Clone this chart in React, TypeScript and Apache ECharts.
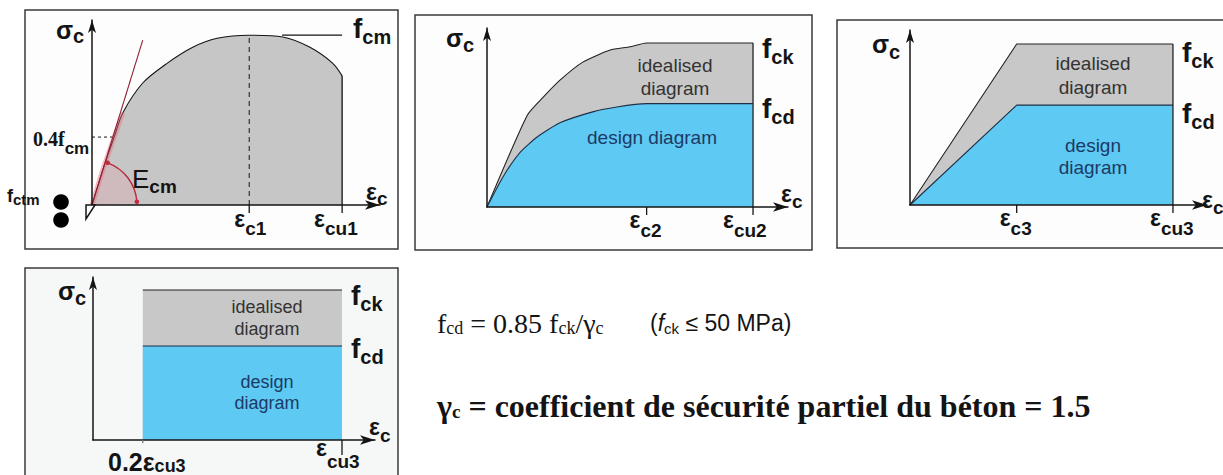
import React, { useEffect, useRef } from "react";
import * as echarts from "echarts";

// ---------- DATA (σc in MPa, εc in ‰) ----------
// Panel 1: real stress-strain curve
const P1_CURVE: number[][] = [
  [0, 0], [0.15, 7.8], [0.31, 15.2], [0.43, 20.6], [0.71, 27.3], [1.05, 31.7],
  [1.41, 35.3], [1.75, 37.3], [2.2, 38], [2.67, 37.6], [3.05, 35.3], [3.37, 31.7], [3.5, 28.9],
];
const P1_FCM = 38;
const P1_04FCM = 15.2;
const P1_04FCM_X = 0.31;
const P1_TANGENT: number[][] = [[0, 0], [0.71, 36.9]];
const P1_FCM_LEADER_X = 2.66;
const P1_TICKS = [2.2, 3.5]; // εc1, εcu1
const P1_TICK_LABELS = ["c1", "cu1"];

// Panel 2: parabola-rectangle
const P2_IDEAL: number[][] = [
  [0, 0], [0.53, 16.8], [0.74, 20.1], [0.96, 23.2], [1.26, 26.5], [1.62, 28.7], [1.88, 29.3], [2.1, 30], [3.5, 30],
];
const P2_DESIGN: number[][] = [
  [0, 0], [0.21, 5.5], [0.43, 9.9], [0.66, 12.8], [0.96, 15.4], [1.39, 17.4], [1.71, 18.3], [2.1, 18.9], [3.5, 18.9],
];
const P2_TICKS = [2.1, 3.5]; // εc2, εcu2
const P2_TICK_LABELS = ["c2", "cu2"];

// Panel 3: bi-linear
const P3_IDEAL: number[][] = [[0, 0], [1.42, 30], [3.5, 30]];
const P3_DESIGN: number[][] = [[0, 0], [1.42, 18.6], [3.5, 18.6]];
const P3_TICKS = [1.42, 3.5]; // εc3, εcu3
const P3_TICK_LABELS = ["c3", "cu3"];

// Panel 4: rectangular block
const P4_IDEAL: number[][] = [[0.7, 30], [3.5, 30]];
const P4_DESIGN: number[][] = [[0.7, 18.8], [3.5, 18.8]];
const P4_TICKS = [0.7, 3.5]; // 0.2εcu3, εcu3

// ---------- layout / style ----------
const GRIDS = [
  { left: 92, top: 20, width: 288, height: 185, xMax: 4.03, yMax: 41.4 },
  { left: 487, top: 28, width: 301, height: 179, xMax: 3.96, yMax: 32.74 },
  { left: 910, top: 30, width: 297, height: 175, xMax: 3.953, yMax: 32.6 },
  { left: 93, top: 277, width: 282, height: 163, xMax: 3.964, yMax: 32.6 },
];
const GRAY = "#c8c8c8";
const BLUE = "#5ec9f3";
const INK = "#141414";
const SANS = '"Liberation Sans", Arial, Helvetica, sans-serif';
const SERIF = '"Liberation Serif", "Times New Roman", serif';

const canvasCtx = typeof document !== "undefined" ? document.createElement("canvas").getContext("2d") : null;
function measure(t: string, font: string): number {
  if (!canvasCtx) return t.length * 10;
  canvasCtx.font = font;
  return canvasCtx.measureText(t).width;
}

type Run = { t: string; size: number; dy?: number; dx?: number; weight?: string; family?: string; italic?: boolean; fill?: string };
function runs(x0: number, y: number, list: Run[]): any[] {
  let x = x0;
  const out: any[] = [];
  for (const r of list) {
    const font = `${r.italic ? "italic" : "normal"} ${r.weight ?? "bold"} ${r.size}px ${r.family ?? SANS}`;
    x += r.dx ?? 0;
    out.push({
      type: "text", x, y: y + (r.dy ?? 0), z: 100, silent: true,
      style: { text: r.t, font, fill: r.fill ?? INK, align: "left", verticalAlign: "middle", textAlign: "left", textVerticalAlign: "middle" },
    });
    x += measure(r.t, font);
  }
  return out;
}
function lab(x: number, y: number, main: string, sub: string, mainSize: number, subSize: number, dy: number): any[] {
  return runs(x, y, [{ t: main, size: mainSize }, { t: sub, size: subSize, dy }]);
}
function centered(x: number, y: number, t: string, size: number, fill: string): any {
  return {
    type: "text", x, y, z: 100, silent: true,
    style: { text: t, font: `normal ${size}px ${SANS}`, fill, align: "center", verticalAlign: "middle", textAlign: "center", textVerticalAlign: "middle" },
  };
}

function App() {
  const ref = useRef<HTMLDivElement>(null);
  useEffect(() => {
    const el = ref.current!;
    const chart = echarts.init(el, null, { renderer: "svg" });

    const axisLine = (size: number[]) => ({
      show: true,
      lineStyle: { color: INK, width: 1.5 },
      symbol: ["none", "arrow"],
      symbolSize: size,
    });
    const line = (g: number, data: number[][], color: string, width: number, extra: any = {}) => ({
      type: "line", xAxisIndex: g, yAxisIndex: g, data, symbol: "none", silent: true, animation: false,
      lineStyle: { color, width }, z: 3, ...extra,
    });

    chart.setOption({
      animation: false,
      grid: GRIDS.map((g) => ({ left: g.left, top: g.top, width: g.width, height: g.height, containLabel: false })),
      xAxis: GRIDS.map((g, i) => ({
        gridIndex: i, type: "value", min: 0, max: g.xMax, z: 6,
        axisLine: axisLine([7, 15]), axisTick: { show: false }, axisLabel: { show: false }, splitLine: { show: false },
      })),
      yAxis: GRIDS.map((g, i) => ({
        gridIndex: i, type: "value", min: 0, max: g.yMax, z: 6,
        axisLine: axisLine([6, 13]), axisTick: { show: false }, axisLabel: { show: false }, splitLine: { show: false },
      })),
      series: [
        // panel 1
        line(0, P1_CURVE, INK, 1.1, { smooth: 0.3, areaStyle: { color: "#c6c6c6", opacity: 1 } }),
        line(0, [[P1_TICKS[1], P1_CURVE[P1_CURVE.length - 1][1]], [P1_TICKS[1], 0]], INK, 1.3),
        line(0, [[P1_TICKS[0], 0], [P1_TICKS[0], P1_FCM]], INK, 1, { lineStyle: { color: INK, width: 1, type: [5, 4] } }),
        line(0, [[0, P1_04FCM], [P1_04FCM_X, P1_04FCM]], INK, 1, { lineStyle: { color: INK, width: 1, type: [3, 3] } }),
        line(0, [[P1_FCM_LEADER_X, P1_FCM], [P1_TICKS[1], P1_FCM]], INK, 1.2),
        line(0, P1_TANGENT, "#8e1f33", 1.1, { z: 5 }),
        // panel 2
        line(1, P2_IDEAL, "#222", 1.1, { smooth: 0.2, areaStyle: { color: GRAY, opacity: 1 } }),
        line(1, P2_DESIGN, "#1f2f45", 1.1, { smooth: 0.2, areaStyle: { color: BLUE, opacity: 1 }, z: 4 }),
        line(1, [[P2_TICKS[1], 0], [P2_TICKS[1], P2_IDEAL[P2_IDEAL.length - 1][1]]], "#222", 1.3, { z: 5 }),
        // panel 3
        line(2, P3_IDEAL, "#222", 1.1, { areaStyle: { color: GRAY, opacity: 1 } }),
        line(2, P3_DESIGN, "#1f2f45", 1.1, { areaStyle: { color: BLUE, opacity: 1 }, z: 4 }),
        line(2, [[P3_TICKS[1], 0], [P3_TICKS[1], P3_IDEAL[P3_IDEAL.length - 1][1]]], "#222", 1.3, { z: 5 }),
        // panel 4
        line(3, P4_IDEAL, "#222", 1.1, { areaStyle: { color: GRAY, opacity: 1 } }),
        line(3, P4_DESIGN, "#1f2f45", 1.1, { areaStyle: { color: BLUE, opacity: 1 }, z: 4 }),
      ],
    });

    const px = (g: number, x: number, y: number) => chart.convertToPixel({ gridIndex: g } as any, [x, y]) as number[];
    const G: any[] = [];

    // frames
    G.push({ type: "rect", z: -10, silent: true, shape: { x: 25, y: 10, width: 373, height: 239 }, style: { fill: "#fdfdfd", stroke: "#3a3a3a", lineWidth: 1.5 } });
    G.push({ type: "rect", z: -10, silent: true, shape: { x: 415, y: 15, width: 397, height: 235 }, style: { fill: "#fdfdfd", stroke: "#3a3a3a", lineWidth: 1.5 } });
    G.push({ type: "rect", z: -10, silent: true, shape: { x: 837, y: 20, width: 420, height: 228 }, style: { fill: "#fdfdfd", stroke: "#3a3a3a", lineWidth: 1.5 } });
    G.push({ type: "rect", z: -10, silent: true, shape: { x: 25, y: 268, width: 373, height: 240 }, style: { fill: "#f6f8f8", stroke: "#3a3a3a", lineWidth: 1.5 } });

    // tick marks below axes
    const tick = (g: number, v: number, len: number, color = INK) => {
      const p = px(g, v, 0);
      G.push({ type: "line", z: 20, silent: true, shape: { x1: p[0], y1: p[1], x2: p[0], y2: p[1] + len }, style: { stroke: color, lineWidth: 1.3 } });
      return p;
    };

    // ---- panel 1 ----
    const o1 = px(0, 0, 0);
    const pA = px(0, P1_CURVE[1][0], P1_CURVE[1][1]);
    const pB = px(0, P1_CURVE[2][0], P1_CURVE[2][1]);
    const pC = px(0, P1_CURVE[3][0], P1_CURVE[3][1]);
    G.push({ type: "sector", z: 4, silent: true, shape: { cx: o1[0], cy: o1[1], r: 45, r0: 0, startAngle: -1.25, endAngle: -0.05, clockwise: true }, style: { fill: "rgba(240,150,160,0.22)" } });
    G.push({ type: "polyline", z: 4, silent: true, shape: { points: [o1, pA, pB, pC] }, style: { stroke: "rgba(235,110,125,0.45)", lineWidth: 5, fill: null } });
    G.push({ type: "arc", z: 7, silent: true, shape: { cx: o1[0], cy: o1[1], r: 45, startAngle: -1.215, endAngle: -0.07, clockwise: true }, style: { stroke: "#b72a3e", lineWidth: 1.4, fill: null } });
    [-1.215, -0.07].forEach((a) => {
      G.push({ type: "circle", z: 8, silent: true, shape: { cx: o1[0] + 45 * Math.cos(a), cy: o1[1] + 45 * Math.sin(a), r: 2.3 }, style: { fill: "#c8283c" } });
    });
    G.push({ type: "polygon", z: 20, silent: true, shape: { points: [[o1[0] - 6, o1[1]], [o1[0] + 3, o1[1]], [o1[0] - 6, o1[1] + 14]] }, style: { fill: "#fff", stroke: INK, lineWidth: 1.5 } });
    G.push({ type: "circle", z: 20, silent: true, shape: { cx: 61, cy: 202, r: 7.8 }, style: { fill: "#000" } });
    G.push({ type: "circle", z: 20, silent: true, shape: { cx: 61, cy: 220, r: 7.8 }, style: { fill: "#000" } });
    G.push(...runs(7, 196, [{ t: "f", size: 18 }, { t: "ctm", size: 15, dy: 3 }]));
    G.push(...lab(56, 30, "σ", "c", 25, 20, 6));
    G.push(...lab(353, 28, "f", "cm", 28, 20, 9));
    G.push(...runs(33, 139, [{ t: "0.4f", size: 20, family: SERIF }, { t: "cm", size: 17, dy: 9 }]));
    G.push(...runs(132, 179, [{ t: "E", size: 26, weight: "normal" }, { t: "cm", size: 19, dy: 7 }]));
    G.push(...lab(366, 192, "ε", "c", 23, 19, 6));
    P1_TICKS.forEach((v, i) => {
      const p = tick(0, v, 8);
      G.push(...lab(p[0] - (i === 0 ? 15 : 28), 219, "ε", P1_TICK_LABELS[i], 23, 19, 9));
    });

    // ---- panel 2 ----
    G.push(...lab(446, 38, "σ", "c", 25, 20, 7));
    G.push(...lab(762, 48, "f", "ck", 28, 20, 9));
    G.push(...lab(762, 108, "f", "cd", 28, 20, 9));
    G.push(...lab(781, 194, "ε", "c", 23, 19, 7));
    P2_TICKS.forEach((v, i) => {
      const p = tick(1, v, 8);
      G.push(...lab(p[0] - (i === 0 ? 17 : 30), 220, "ε", P2_TICK_LABELS[i], 23, 19, 10));
    });
    G.push(centered(675, 65, "idealised", 19, "#333"));
    G.push(centered(675, 88, "diagram", 19, "#333"));
    G.push(centered(652, 137, "design diagram", 19, "#1c3a66"));

    // ---- panel 3 ----
    G.push(...lab(872, 44, "σ", "c", 25, 20, 8));
    G.push(...lab(1182, 52, "f", "ck", 28, 20, 9));
    G.push(...lab(1182, 113, "f", "cd", 28, 20, 9));
    G.push(...lab(1202, 200, "ε", "c", 23, 19, 7));
    P3_TICKS.forEach((v, i) => {
      const p = tick(2, v, 8);
      G.push(...lab(p[0] - (i === 0 ? 17 : 23), 218, "ε", P3_TICK_LABELS[i], 23, 19, 10));
    });
    G.push(centered(1093, 63, "idealised", 19, "#333"));
    G.push(centered(1093, 87, "diagram", 19, "#333"));
    G.push(centered(1093, 145, "design", 19, "#1c3a66"));
    G.push(centered(1093, 167, "diagram", 19, "#1c3a66"));

    // ---- panel 4 ----
    G.push(...lab(58, 291, "σ", "c", 25, 20, 7));
    G.push(...lab(351, 295, "f", "ck", 28, 20, 9));
    G.push(...lab(351, 348, "f", "cd", 28, 20, 9));
    G.push(...lab(369, 427, "ε", "c", 23, 19, 8));
    tick(3, P4_TICKS[0], 3, "#777");
    const pe = tick(3, P4_TICKS[1], 15);
    G.push(...lab(pe[0] - 26, 448, "ε", "cu3", 23, 19, 13));
    G.push(...runs(108, 462, [{ t: "0.2ε", size: 25 }, { t: "cu3", size: 18, dy: 4 }]));
    G.push(centered(267, 307, "idealised", 18, "#333"));
    G.push(centered(267, 329, "diagram", 18, "#333"));
    G.push(centered(267, 382, "design", 18, "#1c3a66"));
    G.push(centered(267, 403, "diagram", 18, "#1c3a66"));

    // ---- formulas ----
    G.push(...runs(437, 323, [
      { t: "f", size: 28, weight: "normal", family: SERIF },
      { t: "cd", size: 18, weight: "normal", family: SERIF, dy: 5 },
      { t: " = 0.85 f", size: 28, weight: "normal", family: SERIF },
      { t: "ck", size: 18, weight: "normal", family: SERIF, dy: 5 },
      { t: "/γ", size: 28, weight: "normal", family: SERIF },
      { t: "c", size: 18, weight: "normal", family: SERIF, dy: 5 },
    ]));
    G.push(...runs(650, 323, [
      { t: "(", size: 23, weight: "normal" },
      { t: "f", size: 23, weight: "normal", italic: true },
      { t: "ck", size: 15, weight: "normal", dy: 5 },
      { t: " ≤ 50 MPa)", size: 23, weight: "normal" },
    ]));
    G.push(...runs(437, 406, [
      { t: "γ", size: 32, family: SERIF },
      { t: "c", size: 19, family: SERIF, dy: 5 },
      { t: " = coefficient de sécurité partiel du béton = 1.5", size: 32, family: SERIF },
    ]));

    chart.setOption({ graphic: { elements: G } });

    return () => chart.dispose();
  }, []);

  return (
    <div style={{ position: "absolute", left: 0, top: 0, width: 1223, height: 475, background: "#fff", overflow: "hidden" }}>
      <div ref={ref} style={{ width: 1223, height: 475 }} />
    </div>
  );
}

export default App;
